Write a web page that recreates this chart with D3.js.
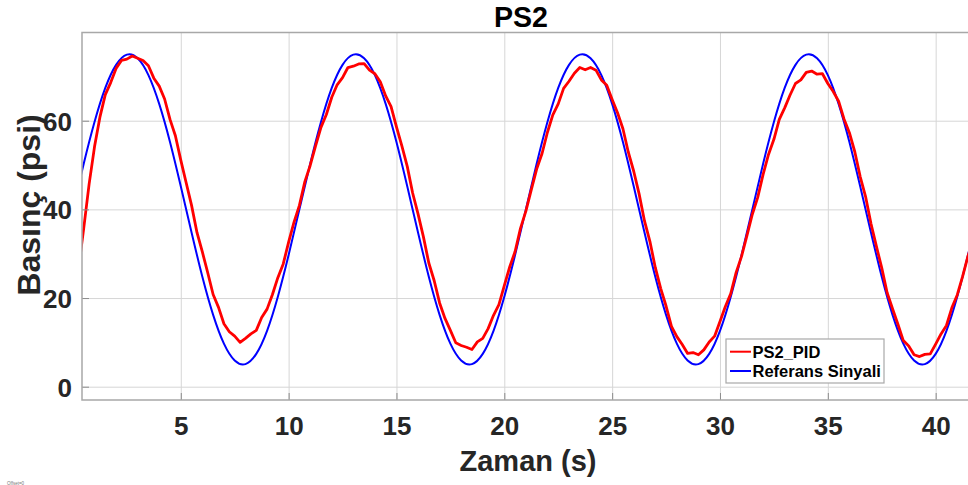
<!DOCTYPE html>
<html><head><meta charset="utf-8">
<script src="https://cdn.jsdelivr.net/npm/d3@7"></script>
<style>body{margin:0;background:#fff;} svg{display:block;font-family:"Liberation Sans",Arial,Helvetica,sans-serif;}</style>
</head><body><svg id="c" width="968" height="485"></svg>
<script>
const chartTitle = "PS2";
const xLabel = "Zaman (s)";
const yLabel = "Basınç (psi)";
const seriesNames = ["PS2_PID", "Referans Sinyali"];
const xTicks = [5, 10, 15, 20, 25, 30, 35, 40];
const yTicks = [0, 20, 40, 60];
const xDomain = [0.42, 42];
const yDomain = [-3, 79.9];
const footNote = "Offset=0";

// Referans Sinyali: sampled every 0.5 s starting at t = 0
const refStart = 0, refStep = 0.5;
const refValues = [
  40.0,50.3,59.7,67.4,72.6,74.9,74.1,70.3,63.8,55.2,45.2,34.8,24.8,16.2,9.7,5.9,5.1,7.4,12.6,20.3,29.7,
  40.0,50.3,59.7,67.4,72.6,74.9,74.1,70.3,63.8,55.2,45.2,34.8,24.8,16.2,9.7,5.9,5.1,7.4,12.6,20.3,29.7,
  40.0,50.3,59.7,67.4,72.6,74.9,74.1,70.3,63.8,55.2,45.2,34.8,24.8,16.2,9.7,5.9,5.1,7.4,12.6,20.3,29.7,
  40.0,50.3,59.7,67.4,72.6,74.9,74.1,70.3,63.8,55.2,45.2,34.8,24.8,16.2,9.7,5.9,5.1,7.4,12.6,20.3,29.7,
  40.0
];

// PS2_PID: sampled every 0.25 s starting at t = 0.25
const pidStart = 0.25, pidStep = 0.25;
const pidValues = [
  26.4,35.7,45.7,54.1,60.8,65.9,68.6,71.8,73.6,73.9,74.6,
  74.1,73.6,72.4,69.6,67.8,64.9,60.3,56.6,51.1,46.0,40.9,34.8,30.4,25.7,20.8,17.9,14.2,12.4,11.4,10.0,
  10.9,11.9,12.7,15.6,17.5,20.8,24.6,27.7,32.6,37.1,40.9,46.2,49.9,54.3,58.5,61.4,65.3,68.1,69.7,72.0,72.3,
  72.8,
  72.9,71.4,70.6,68.8,65.6,63.2,58.6,54.3,49.7,43.7,39.0,33.8,27.9,23.9,18.9,15.4,12.7,9.9,9.3,8.9,
  8.4,10.1,10.9,13.1,16.1,18.5,22.8,27.0,30.5,35.7,39.6,44.4,49.1,52.6,57.4,61.3,63.8,67.3,68.9,70.7,72.0,
  71.5,
  72.0,71.4,69.2,68.0,64.8,61.8,58.2,52.9,48.6,43.5,37.4,32.8,26.9,22.2,18.2,13.6,11.3,9.5,7.5,7.7,
  7.2,8.3,10.1,11.4,14.7,18.1,21.0,25.8,29.4,34.1,38.9,42.7,47.9,52.4,55.8,60.3,62.9,65.8,68.4,69.2,70.9,
  71.2,
  70.5,70.6,68.4,66.6,64.4,60.4,57.3,53.0,47.4,42.9,36.8,31.7,26.8,21.2,17.6,14.1,10.4,9.2,7.2,6.8,
  7.3,7.4,9.6,11.9,13.8,17.8,20.7,24.9,29.5,33.2
];

const svg = d3.select("#c");
const L = 82, T = 32.5, B = 400, R = 978.8, W = 968;
const x = d3.scaleLinear().domain(xDomain).range([L, R]);
const y = d3.scaleLinear().domain(yDomain).range([B, T]);

svg.append("rect").attr("width", 968).attr("height", 485).attr("fill", "#fff");

// grid
const gx = svg.append("g").attr("transform", `translate(0,${B})`)
  .call(d3.axisBottom(x).tickValues(xTicks).tickSize(-(B - T)).tickFormat(""));
gx.select(".domain").remove();
gx.selectAll("line").attr("stroke", "#d6d6d6").attr("stroke-width", 1);
const gy = svg.append("g").attr("transform", `translate(${L},0)`)
  .call(d3.axisLeft(y).tickValues(yTicks).tickSize(-(W - L)).tickFormat(""));
gy.select(".domain").remove();
gy.selectAll("line").attr("stroke", "#d6d6d6").attr("stroke-width", 1);

// clip
svg.append("clipPath").attr("id", "clip").append("rect")
  .attr("x", L).attr("y", T).attr("width", W - L).attr("height", B - T);

const refData = refValues.map((v, i) => [refStart + i * refStep, v]);
const pidData = pidValues.map((v, i) => [pidStart + i * pidStep, v]);

const lines = svg.append("g").attr("clip-path", "url(#clip)");
lines.append("path").datum(refData)
  .attr("d", d3.line().x(d => x(d[0])).y(d => y(d[1])).curve(d3.curveNatural))
  .attr("fill", "none").attr("stroke", "#0000ff").attr("stroke-width", 2);
lines.append("path").datum(pidData)
  .attr("d", d3.line().x(d => x(d[0])).y(d => y(d[1])))
  .attr("fill", "none").attr("stroke", "#ff0000").attr("stroke-width", 2.8)
  .attr("stroke-linejoin", "round");

// axes with inward ticks
const ax = svg.append("g").attr("transform", `translate(0,${B})`)
  .call(d3.axisBottom(x).tickValues(xTicks).tickSize(-7).tickPadding(17).tickFormat(d3.format("d")));
ax.select(".domain").remove();
ax.selectAll("line").attr("stroke", "#8c8c8c");
ax.selectAll("text").attr("font-size", 26).attr("font-weight", "bold").attr("fill", "#262626")
  .attr("font-family", "Liberation Sans, Arial, sans-serif");

const ay = svg.append("g").attr("transform", `translate(${L},0)`)
  .call(d3.axisLeft(y).tickValues(yTicks).tickSize(-7).tickPadding(10).tickFormat(d3.format("d")));
ay.select(".domain").remove();
ay.selectAll("line").attr("stroke", "#8c8c8c");
ay.selectAll("text").attr("font-size", 26).attr("font-weight", "bold").attr("fill", "#262626")
  .attr("font-family", "Liberation Sans, Arial, sans-serif").attr("dy", "0.36em");

// box
svg.append("path").attr("d", `M${W},${T}H${L}V${B}H${W}`)
  .attr("fill", "none").attr("stroke", "#a8a8a8").attr("stroke-width", 1.5);

// texts
svg.append("text").attr("x", 521).attr("y", 27).attr("text-anchor", "middle")
  .attr("font-size", 28.6).attr("font-weight", "bold").attr("fill", "#000").text(chartTitle);
svg.append("text").attr("x", 528).attr("y", 471).attr("text-anchor", "middle")
  .attr("font-size", 29).attr("font-weight", "bold").attr("fill", "#262626").text(xLabel);
svg.append("text").attr("transform", "translate(40,205) rotate(-90)").attr("text-anchor", "middle")
  .attr("font-size", 32).attr("font-weight", "bold").attr("fill", "#262626").text(yLabel);
svg.append("text").attr("x", 7).attr("y", 484.5).attr("font-size", 4.5).attr("fill", "#777").text(footNote);

// legend
const lg = svg.append("g");
lg.append("rect").attr("x", 726).attr("y", 339).attr("width", 158).attr("height", 44)
  .attr("fill", "#fff").attr("stroke", "#a8a8a8").attr("stroke-width", 1.2);
const legendColors = ["#ff0000", "#0000ff"];
const legendY = [351.7, 371];
seriesNames.forEach((n, i) => {
  lg.append("line").attr("x1", 730).attr("x2", 751).attr("y1", legendY[i]).attr("y2", legendY[i])
    .attr("stroke", legendColors[i]).attr("stroke-width", 2);
  lg.append("text").attr("x", 752.5).attr("y", legendY[i] + 6).attr("font-size", 16.5)
    .attr("font-weight", "bold").attr("fill", "#000").text(n);
});
</script></body></html>
